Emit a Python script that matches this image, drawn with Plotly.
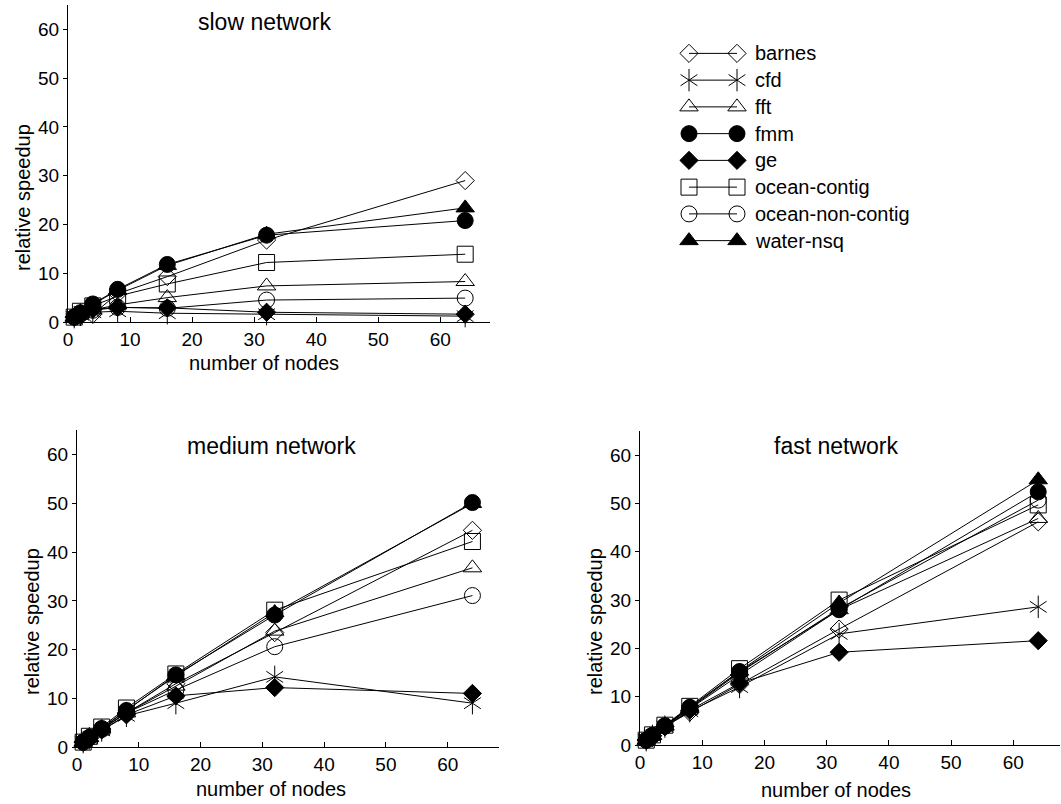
import plotly.graph_objects as go

W, H = 1061, 804

nodes = [1, 2, 4, 8, 16, 32, 64]
series_names = ["barnes", "cfd", "fft", "fmm", "ge", "ocean-contig", "ocean-non-contig", "water-nsq"]

slow_barnes = [1, 1.3, 1.6, 5.8, 9.3, 16.8, 29.0]
slow_cfd = [1, 1.5, 2.0, 2.2, 1.8, 1.6, 1.2]
slow_fft = [1, 1.7, 2.5, 3.5, 5.0, 7.4, 8.3]
slow_fmm = [1, 1.9, 3.7, 6.7, 11.8, 17.8, 20.8]
slow_ge = [1, 1.8, 2.6, 3.0, 2.9, 2.0, 1.6]
slow_ocean_contig = [1, 2.2, 3.3, 5.3, 7.8, 12.2, 13.9]
slow_ocean_non_contig = [1, 1.6, 2.4, 3.0, 2.8, 4.5, 4.9]
slow_water_nsq = [1, 1.9, 3.6, 6.5, 11.6, 18.0, 23.4]

medium_barnes = [1, 1.9, 3.7, 7.0, 13.0, 23.5, 44.5]
medium_cfd = [1, 1.8, 3.4, 6.4, 9.0, 14.4, 9.0]
medium_fft = [1, 1.9, 3.7, 7.0, 12.5, 23.8, 36.8]
medium_fmm = [1, 2.0, 3.8, 7.5, 14.8, 27.1, 50.2]
medium_ge = [1, 1.8, 3.5, 6.6, 10.5, 12.2, 11.0]
medium_ocean_contig = [1, 2.2, 4.1, 8.0, 15.0, 28.1, 42.2]
medium_ocean_non_contig = [1, 1.9, 3.6, 7.0, 11.7, 20.6, 31.1]
medium_water_nsq = [1, 2.0, 3.9, 7.6, 14.6, 27.6, 50.0]

fast_barnes = [1, 1.9, 3.8, 6.8, 12.5, 24.0, 46.2]
fast_cfd = [1, 1.9, 3.8, 7.0, 12.0, 23.0, 28.6]
fast_fft = [1, 2.0, 3.9, 7.5, 14.5, 28.0, 46.9]
fast_fmm = [1, 2.0, 4.0, 7.8, 15.2, 28.0, 52.4]
fast_ge = [1, 1.9, 3.8, 7.2, 12.8, 19.2, 21.6]
fast_ocean_contig = [1, 2.1, 4.1, 8.0, 15.8, 30.0, 49.7]
fast_ocean_non_contig = [1, 2.0, 3.9, 7.6, 15.0, 28.2, 50.7]
fast_water_nsq = [1, 2.0, 4.0, 7.8, 15.3, 29.4, 54.9]

panel_titles = ["slow network", "medium network", "fast network"]
x_title = "number of nodes"
y_title = "relative speedup"
tick_vals = [0, 10, 20, 30, 40, 50, 60]

panels = [
    [slow_barnes, slow_cfd, slow_fft, slow_fmm, slow_ge, slow_ocean_contig, slow_ocean_non_contig, slow_water_nsq],
    [medium_barnes, medium_cfd, medium_fft, medium_fmm, medium_ge, medium_ocean_contig, medium_ocean_non_contig, medium_water_nsq],
    [fast_barnes, fast_cfd, fast_fft, fast_fmm, fast_ge, fast_ocean_contig, fast_ocean_non_contig, fast_water_nsq],
]

# marker style per series: (symbol, size)
styles = [
    ("diamond-open", 14),
    ("y-up-open", 14),
    ("triangle-up-open", 16),
    ("circle", 16),
    ("diamond", 14),
    ("square-open", 16),
    ("circle-open", 16),
    ("triangle-up", 16),
]

FONT = "Liberation Sans, Arial, sans-serif"

# panel geometry in pixels: (x0, x1, ytop, ybottom, xmax, ymax)
geom = [
    (68, 490, 5, 322, 68.0, 65.0),
    (77, 499, 430, 747, 68.3, 65.1),
    (640, 1060, 431, 745, 67.5, 65.0),
]
title_pos = [(264, 22), (271, 446), (836, 446)]
xt_pos = [(264, 363), (271, 789), (836, 790)]
yt_pos = [(23, 198), (32, 622), (595, 622)]

fig = go.Figure()

for p, data in enumerate(panels):
    ax = "" if p == 0 else str(p + 1)
    for i, name in enumerate(series_names):
        sym, sz = styles[i]
        fig.add_trace(go.Scatter(
            x=nodes, y=data[i], mode="lines+markers", name=name,
            xaxis="x" + ax, yaxis="y" + ax, showlegend=False, cliponaxis=False,
            line=dict(color="black", width=1),
            marker=dict(symbol=sym, size=sz, color="black", line=dict(color="black", width=1)),
        ))
        if name == "cfd":
            fig.add_trace(go.Scatter(
                x=nodes, y=data[i], mode="markers", xaxis="x" + ax, yaxis="y" + ax,
                showlegend=False, cliponaxis=False, hoverinfo="skip",
                marker=dict(symbol="y-down-open", size=sz, color="black", line=dict(color="black", width=1)),
            ))

# legend samples on their own small axis
leg_x = [0, 1]
for i, name in enumerate(series_names):
    sym, sz = styles[i]
    fig.add_trace(go.Scatter(
        x=leg_x, y=[i, i], mode="lines+markers", xaxis="x4", yaxis="y4",
        showlegend=False, cliponaxis=False, hoverinfo="skip",
        line=dict(color="black", width=1),
        marker=dict(symbol=sym, size=sz, color="black", line=dict(color="black", width=1)),
    ))
    if name == "cfd":
        fig.add_trace(go.Scatter(
            x=leg_x, y=[i, i], mode="markers", xaxis="x4", yaxis="y4",
            showlegend=False, cliponaxis=False, hoverinfo="skip",
            marker=dict(symbol="y-down-open", size=sz, color="black", line=dict(color="black", width=1)),
        ))

layout = dict(
    width=W, height=H, margin=dict(l=0, r=0, t=0, b=0, autoexpand=False),
    paper_bgcolor="white", plot_bgcolor="white",
    font=dict(family=FONT, size=19, color="black"),
    showlegend=False,
)

annotations = []
for p, (x0, x1, yt, yb, xmax, ymax) in enumerate(geom):
    ax = "" if p == 0 else str(p + 1)
    layout["xaxis" + ax] = dict(
        domain=[x0 / W, x1 / W], range=[0, xmax], anchor="y" + ax, automargin=False,
        tickvals=tick_vals, ticks="inside", ticklen=5, tickcolor="black",
        showline=True, linecolor="black", linewidth=1, showgrid=False, zeroline=False,
        tickfont=dict(size=19),
    )
    layout["yaxis" + ax] = dict(
        domain=[1 - yb / H, 1 - yt / H], range=[0, ymax], anchor="x" + ax, automargin=False,
        tickvals=tick_vals, ticks="outside", ticklen=4, tickcolor="black",
        showline=True, linecolor="black", linewidth=1, showgrid=False, zeroline=False,
        tickfont=dict(size=19),
    )
    tx, ty = title_pos[p]
    annotations.append(dict(text=panel_titles[p], x=tx / W, y=1 - ty / H, xref="paper", yref="paper",
                            showarrow=False, xanchor="center", yanchor="middle", font=dict(size=23)))
    tx, ty = xt_pos[p]
    annotations.append(dict(text=x_title, x=tx / W, y=1 - ty / H, xref="paper", yref="paper",
                            showarrow=False, xanchor="center", yanchor="middle", font=dict(size=20)))
    tx, ty = yt_pos[p]
    annotations.append(dict(text=y_title, x=tx / W, y=1 - ty / H, xref="paper", yref="paper",
                            showarrow=False, xanchor="center", yanchor="middle", textangle=-90,
                            font=dict(size=20)))

# legend axis: rows centered at 53.4 + 26.75*i px
layout["xaxis4"] = dict(domain=[689 / W, 737 / W], range=[0, 1], visible=False, anchor="y4", automargin=False)
layout["yaxis4"] = dict(domain=[1 - 254 / H, 1 - 40 / H], range=[7.5, -0.5], visible=False, anchor="x4", automargin=False)
for i, name in enumerate(series_names):
    annotations.append(dict(text=name, x=753 / W, y=i, xref="paper", yref="y4", showarrow=False,
                            xanchor="left", yanchor="middle", font=dict(size=20)))

layout["annotations"] = annotations
fig.update_layout(**layout)
fig.write_html(
    "out.html",
    config={"displayModeBar": False},
    post_script="document.body.style.margin='0';document.body.style.padding='0';document.body.style.overflow='hidden';",
)
